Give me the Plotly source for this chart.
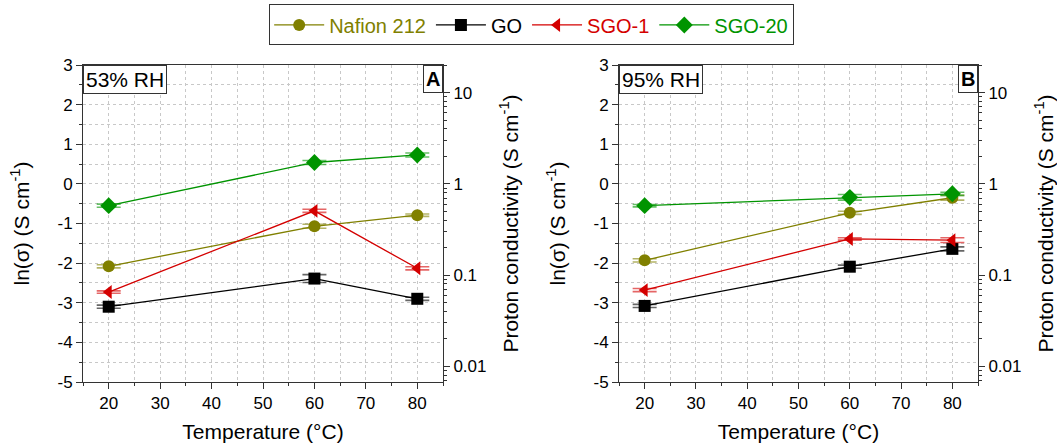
import numpy as np
import plotly.graph_objects as go

temps = [20, 60, 80]
series = ["Nafion 212", "GO", "SGO-1", "SGO-20"]
colors = {"Nafion 212": "#808000", "GO": "#000000", "SGO-1": "#D40000", "SGO-20": "#009400"}
symbols = {"Nafion 212": "circle", "GO": "square", "SGO-1": "triangle-left", "SGO-20": "diamond"}

# ln(sigma) values, panel A (53% RH)
a_nafion = [-2.08, -1.07, -0.79]
a_go = [-3.10, -2.39, -2.90]
a_sgo1 = [-2.73, -0.68, -2.13]
a_sgo20 = [-0.55, 0.54, 0.73]
a_err = {"Nafion 212": [0.04, 0.05, 0.03], "GO": [0.04, 0.10, 0.04],
         "SGO-1": [0.03, 0.04, 0.04], "SGO-20": [0.04, 0.05, 0.05]}

# ln(sigma) values, panel B (95% RH)
b_nafion = [-1.93, -0.73, -0.35]
b_go = [-3.08, -2.09, -1.64]
b_sgo1 = [-2.68, -1.39, -1.42]
b_sgo20 = [-0.55, -0.34, -0.25]
b_err = {"Nafion 212": [0.04, 0.04, 0.06], "GO": [0.04, 0.04, 0.05],
         "SGO-1": [0.04, 0.03, 0.06], "SGO-20": [0.03, 0.07, 0.04]}

# tick labels
x_ticks = [20, 30, 40, 50, 60, 70, 80]
y_ticks = [-5, -4, -3, -2, -1, 0, 1, 2, 3]
y_ticktext = ["-5", "-4", "-3", "-2", "-1", "0", "1", "2", "3"]
log_ticks = [0.01, 0.1, 1, 10]
log_ticktext = ["0.01", "0.1", "1", "10"]

data_a = dict(zip(series, [a_nafion, a_go, a_sgo1, a_sgo20]))
data_b = dict(zip(series, [b_nafion, b_go, b_sgo1, b_sgo20]))

W, H = 1057, 445
FONT = "Arial, Liberation Sans, sans-serif"
fig = go.Figure()

def rgba(hexc, a):
    h = hexc.lstrip("#")
    return "rgba(%d,%d,%d,%.2f)" % (int(h[0:2], 16), int(h[2:4], 16), int(h[4:6], 16), a)

for panel, (data, errs, xa, ya, ya2) in enumerate([
        (data_a, a_err, "x", "y", "y2"),
        (data_b, b_err, "x2", "y3", "y4")]):
    for s in series:
        fig.add_trace(go.Scatter(
            x=temps, y=data[s], xaxis=xa, yaxis=ya, mode="lines+markers",
            name="<span style='color:%s'>%s</span>" % (colors[s], s),
            legendgroup=s, showlegend=(panel == 0),
            line=dict(color=colors[s], width=1.3),
            marker=dict(color=colors[s], symbol=symbols[s], size=12 if s != "SGO-20" else 13),
            error_y=dict(type="data", array=errs[s], width=12, thickness=1.6,
                         color=rgba(colors[s], 0.6)),
        ))
    # invisible companion trace on the log-scale conductivity axis
    fig.add_trace(go.Scatter(
        x=temps, y=list(np.exp(data["GO"])), xaxis=xa, yaxis=ya2, mode="markers",
        marker=dict(opacity=0), showlegend=False, hoverinfo="skip"))

grid = dict(showgrid=True, gridcolor="#c8c8c8", griddash="dot", gridwidth=1)
tickfont = dict(family=FONT, size=17, color="#000")
titlefont = dict(family=FONT, size=21, color="#000")

xdoms = [[83 / W, 443 / W], [619 / W, 978 / W]]
ydom = [1 - 382 / H, 1 - 65 / H]
lo, hi = -5.0, 3.0
logr = [lo / np.log(10), hi / np.log(10)]
minor_vals = [m * 10 ** e for e in range(-3, 2) for m in range(2, 10)]

for i, (xk, yk, y2k, xn, yn) in enumerate([("xaxis", "yaxis", "yaxis2", "x", "y"),
                                          ("xaxis2", "yaxis3", "yaxis4", "x2", "y3")]):
    fig.layout[xk] = dict(
        domain=xdoms[i], anchor=yn, range=[15, 85], tickvals=x_ticks,
        ticks="outside", ticklen=6, tickcolor="#333", showline=True, linecolor="#333",
        linewidth=1, mirror=True, tickfont=tickfont, zeroline=False, automargin=False,
        title=dict(text="Temperature (°C)", font=titlefont, standoff=11),
        minor=dict(dtick=5, tick0=0, ticks="outside", ticklen=3, tickcolor="#333",
                   showgrid=True, gridcolor="#c8c8c8", griddash="dot"),
        **grid)
    fig.layout[yk] = dict(
        domain=ydom, anchor=xn, range=[lo, hi], tickvals=y_ticks, ticktext=y_ticktext,
        ticks="outside", ticklen=6, tickcolor="#333", showline=True, linecolor="#333",
        linewidth=1, mirror=True, tickfont=tickfont, zeroline=False, automargin=False,
        title=dict(text="ln(σ) (S cm<sup>-1</sup>)", font=titlefont, standoff=22),
        minor=dict(dtick=0.5, tick0=0, ticks="outside", ticklen=3, tickcolor="#333",
                   showgrid=True, gridcolor="#c8c8c8", griddash="dot"),
        **grid)
    fig.layout[y2k] = dict(
        overlaying=yn, side="right", anchor=xn, type="log", range=logr,
        tickvals=log_ticks, ticktext=log_ticktext,
        ticks="outside", ticklen=6, tickcolor="#333", showline=True, linecolor="#333",
        linewidth=1, showgrid=False, zeroline=False, tickfont=tickfont, automargin=False,
        title=dict(text="Proton conductivity (S cm<sup>-1</sup>)", font=titlefont, standoff=17),
        minor=dict(tickvals=minor_vals, ticks="outside", ticklen=3, tickcolor="#333",
                   showgrid=False))

labels = [("53% RH", "A"), ("95% RH", "B")]
for i, (rh, let) in enumerate(labels):
    xr = "x" if i == 0 else "x2"
    yr = "y" if i == 0 else "y3"
    fig.add_annotation(text=rh, xref=xr + " domain", yref=yr + " domain", x=0, y=1,
                       xanchor="left", yanchor="top", showarrow=False,
                       font=dict(family=FONT, size=21, color="#000"),
                       bordercolor="#333", borderwidth=1, bgcolor="white", borderpad=2)
    fig.add_annotation(text="<b>%s</b>" % let, xref=xr + " domain", yref=yr + " domain", x=1, y=1,
                       xanchor="right", yanchor="top", showarrow=False,
                       font=dict(family=FONT, size=20, color="#000"),
                       bordercolor="#333", borderwidth=1, bgcolor="white", borderpad=2)

fig.update_layout(
    width=W, height=H, margin=dict(l=0, r=0, t=0, b=0, autoexpand=False),
    paper_bgcolor="white", plot_bgcolor="white",
    legend=dict(orientation="h", x=0.503, xanchor="center", y=0.99, yanchor="top",
                bordercolor="#333", borderwidth=1, bgcolor="white",
                font=dict(family=FONT, size=20),
                itemwidth=50, tracegroupgap=0),
)

fig.write_html("out.html", config={"displayModeBar": False},
               post_script="document.body.style.margin='0';document.body.style.padding='0';")
